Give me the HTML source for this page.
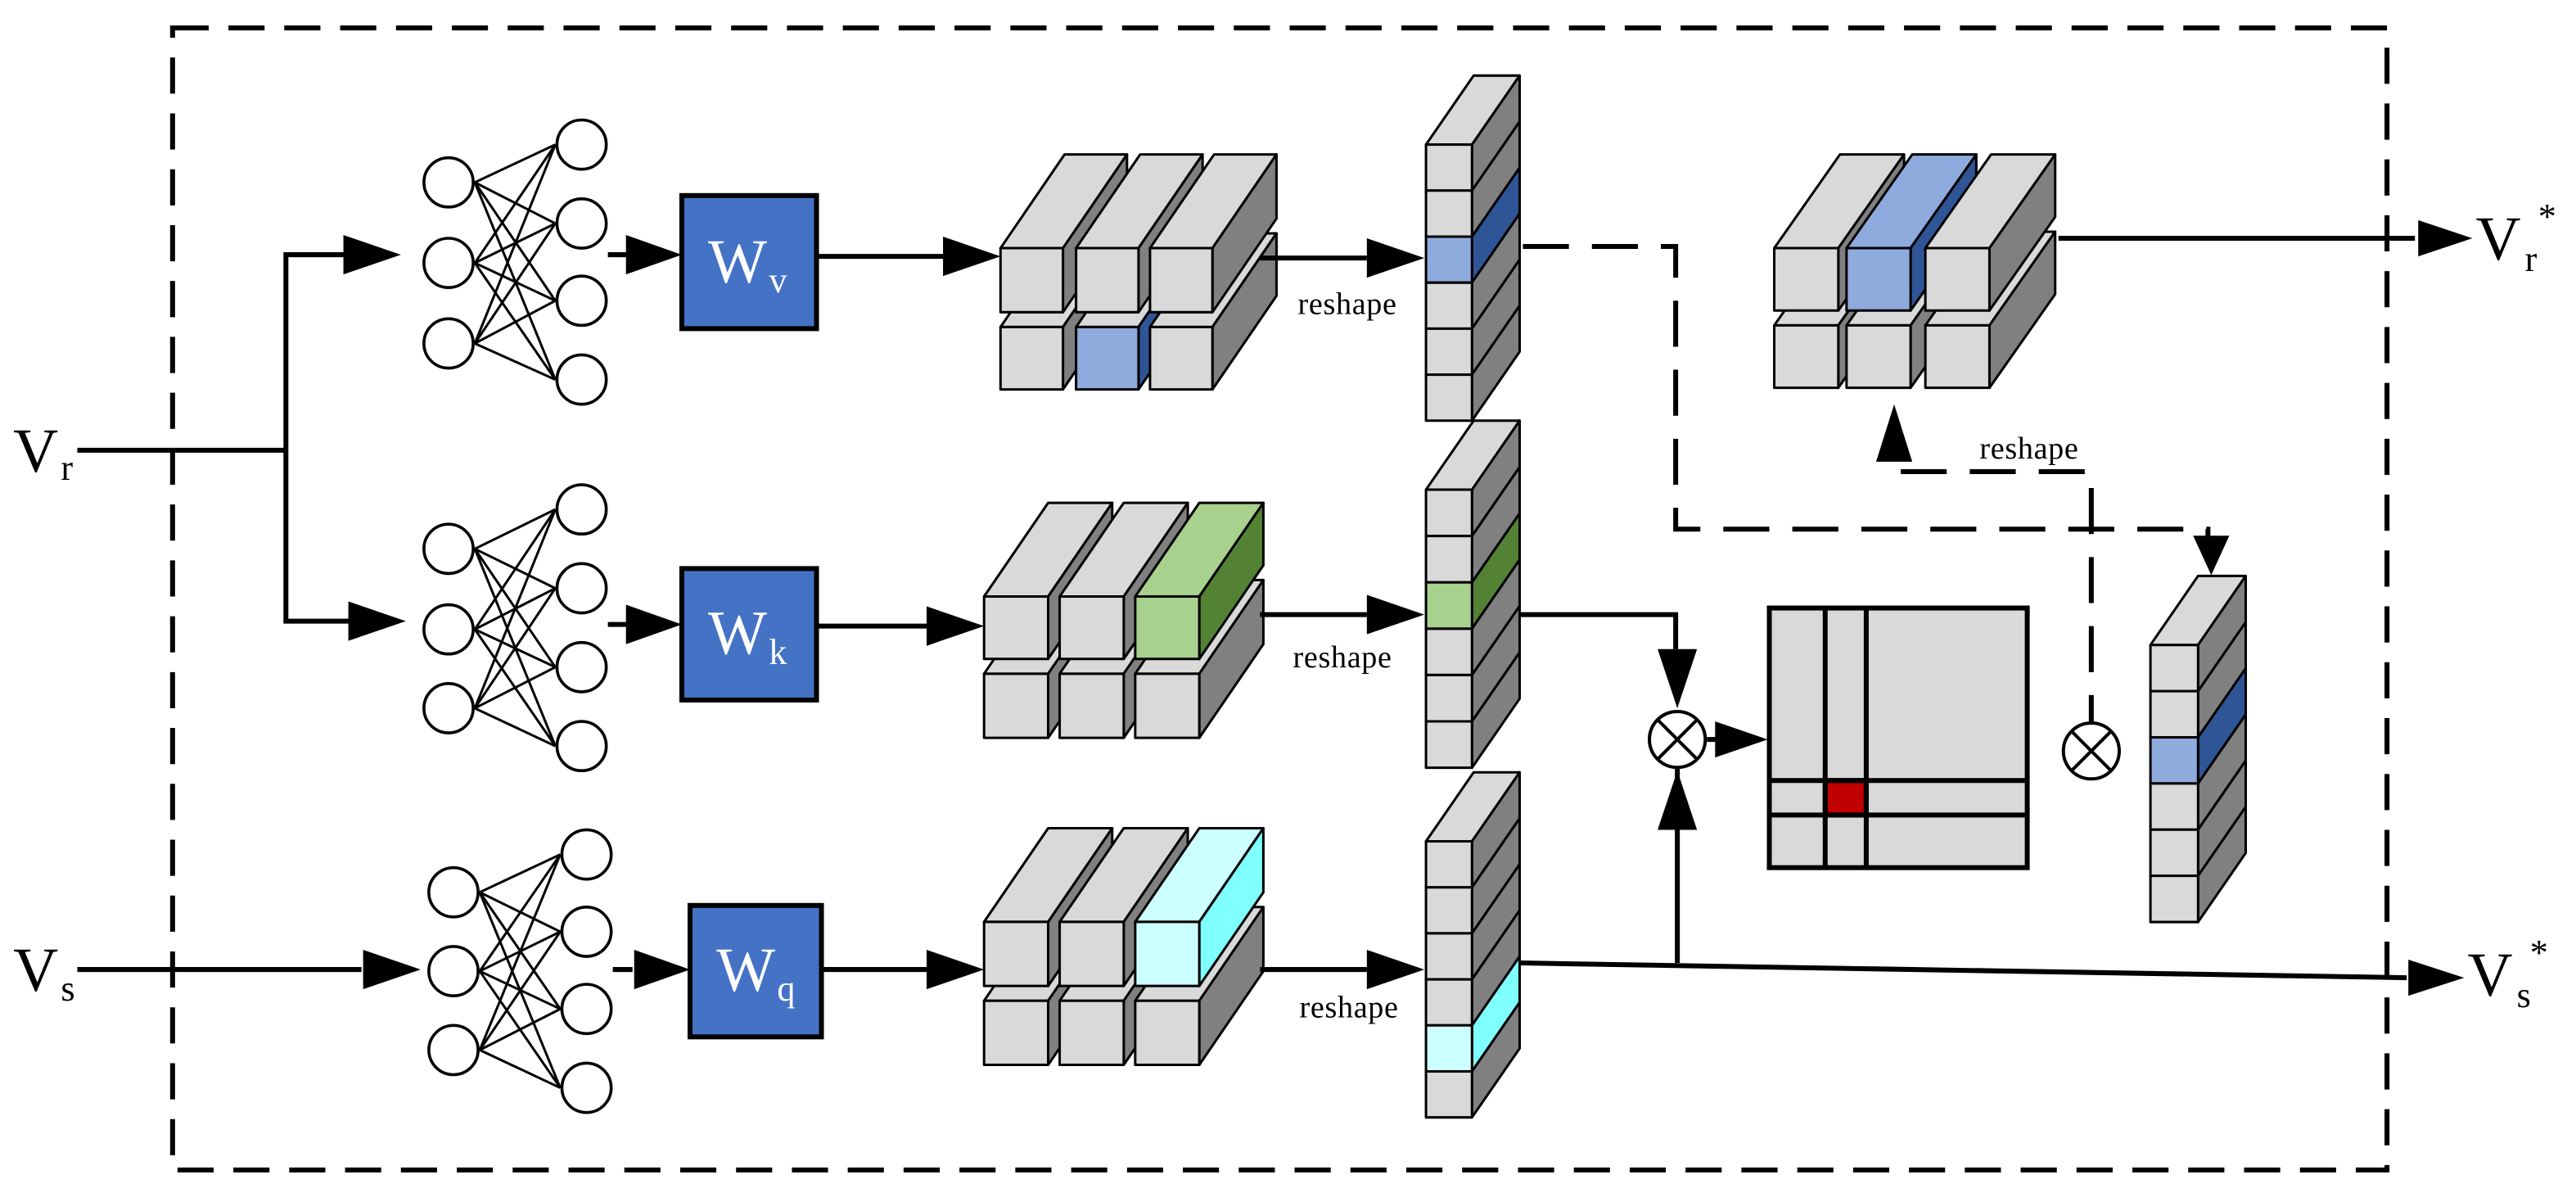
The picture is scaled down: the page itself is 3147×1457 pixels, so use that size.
<!DOCTYPE html>
<html><head><meta charset="utf-8"><style>
html,body{margin:0;padding:0;background:#fff;}
svg{display:block;}
svg text{font-family:"Liberation Serif","Times New Roman",serif;}
</style></head><body>
<svg id="s" width="3147" height="1457" viewBox="0 0 1568 726" xmlns="http://www.w3.org/2000/svg">
<rect x="0" y="0" width="1568" height="726" fill="#fff"/>
<rect x="105" y="17" width="1348" height="695" fill="none" stroke="#000" stroke-width="3" stroke-dasharray="22,12"/>
<g id="shapes"></g>
<g stroke="#000" stroke-width="3" fill="none">
<polyline points="47,274 174,274"/>
<polyline points="209,155 174,155 174,378 212,378"/>
<polyline points="47,590 220,590"/>
<line x1="370" y1="155" x2="382" y2="155"/>
<line x1="370" y1="380" x2="382" y2="380"/>
<line x1="373" y1="590" x2="385" y2="590"/>
<line x1="497" y1="156" x2="575" y2="156"/>
<line x1="497" y1="381" x2="565" y2="381"/>
<line x1="500" y1="590" x2="565" y2="590"/>
<line x1="767" y1="157" x2="832" y2="157"/>
<line x1="767" y1="374" x2="832" y2="374"/>
<line x1="767" y1="590" x2="832" y2="590"/>
<polyline points="925,374 1020,374 1020,395"/>
<line x1="1021" y1="467" x2="1021" y2="586"/>
<line x1="925" y1="586" x2="1465" y2="595"/>
<line x1="1039" y1="450" x2="1045" y2="450"/>
<line x1="1253" y1="145" x2="1470" y2="145"/>
</g>
<g stroke="#000" stroke-width="3" fill="none" stroke-dasharray="28,14">
<polyline points="927,150 1020,150 1020,322 1344,322 1344,330"/>
<polyline points="1157,287 1273,287 1273,440"/>
</g>
<g fill="#000">
<polygon points="244,155 209,143 209,167"/>
<polygon points="247,378 212,366 212,390"/>
<polygon points="256,590 221,578 221,602"/>
<polygon points="415,155 381,143 381,167"/>
<polygon points="415,380 381,368 381,392"/>
<polygon points="420,590 386,578 386,602"/>
<polygon points="609,156 574,144 574,168"/>
<polygon points="599,381 564,369 564,393"/>
<polygon points="599,590 564,578 564,602"/>
<polygon points="867,157 832,145 832,169"/>
<polygon points="867,374 832,362 832,386"/>
<polygon points="867,590 832,578 832,602"/>
<polygon points="1021,431 1009,395 1033,395"/>
<polygon points="1021,469 1009,505 1033,505"/>
<polygon points="1076,450 1044,439 1044,461"/>
<polygon points="1153,246 1142,281 1164,281"/>
<polygon points="1346,350 1335,326 1357,326"/>
<polygon points="1505,145 1472,134 1472,156"/>
<polygon points="1500,595 1466,584 1466,606"/>
</g>
<g stroke="#000" stroke-width="3" fill="#4472c4">
<rect x="415" y="119" width="82" height="81"/>
<rect x="415" y="346" width="82" height="80"/>
<rect x="420" y="551" width="80" height="80"/>
</g>
<g fill="#fff" font-family="Liberation Serif, Times New Roman, serif">
<text x="431" y="172" font-size="38">W</text><text x="468" y="178" font-size="22">v</text>
<text x="431" y="398" font-size="38">W</text><text x="468" y="404" font-size="22">k</text>
<text x="436" y="603" font-size="38">W</text><text x="473" y="609" font-size="22">q</text>
</g>
<g stroke="#000" stroke-width="3" fill="#d9d9d9">
<rect x="1077" y="370" width="157" height="158"/>
<rect x="1111" y="475" width="25" height="21" fill="#c00000"/>
<line x1="1111" y1="370" x2="1111" y2="528"/>
<line x1="1136" y1="370" x2="1136" y2="528"/>
<line x1="1077" y1="475" x2="1234" y2="475"/>
<line x1="1077" y1="496" x2="1234" y2="496"/>
</g>
<g stroke="#000" stroke-width="2" fill="#fff">
<circle cx="1021" cy="450" r="17"/>
<line x1="1009" y1="438" x2="1033" y2="462"/><line x1="1033" y1="438" x2="1009" y2="462"/>
<circle cx="1273" cy="457" r="17"/>
<line x1="1261" y1="445" x2="1285" y2="469"/><line x1="1285" y1="445" x2="1261" y2="469"/>
</g>
<g fill="#000" font-family="Liberation Serif, Times New Roman, serif">
<text x="8" y="287" font-size="38">V</text><text x="37" y="292" font-size="22">r</text>
<text x="8" y="603" font-size="38">V</text><text x="37" y="609" font-size="22">s</text>
<text x="1507" y="158" font-size="38">V</text><text x="1537" y="165" font-size="22">r</text><text x="1545" y="139" font-size="22">*</text>
<text x="1502" y="606" font-size="38">V</text><text x="1532" y="613" font-size="22">s</text><text x="1540" y="587" font-size="22">*</text>
<text x="790" y="191" font-size="19" textLength="60">reshape</text>
<text x="787" y="406" font-size="19" textLength="60">reshape</text>
<text x="791" y="619" font-size="19" textLength="60">reshape</text>
<text x="1205" y="279" font-size="19" textLength="60">reshape</text>
</g>
</svg>
<script>
(function(){
var g=document.getElementById('shapes'),NS='http://www.w3.org/2000/svg';
function el(n,a){var e=document.createElementNS(NS,n);for(var k in a)e.setAttribute(k,a[k]);g.appendChild(e);return e;}
function poly(p,f){el('polygon',{points:p.map(function(q){return q.join(',')}).join(' '),fill:f,stroke:'#000','stroke-width':1.5,'stroke-linejoin':'round'});}
var L='#d9d9d9',D='#808080';
function prism(x,y,w,h,dx,dy,fr,tp,sd){
 poly([[x,y],[x+dx,y+dy],[x+w+dx,y+dy],[x+w,y]],tp);
 poly([[x+w,y],[x+w+dx,y+dy],[x+w+dx,y+h+dy],[x+w,y+h]],sd);
 poly([[x,y],[x+w,y],[x+w,y+h],[x,y+h]],fr);
}
function tensor(xs,w,y1,h1,y2,h2,dx,dy,hl){
 for(var r=0;r<2;r++){
  for(var i=0;i<3;i++){
   var c=[L,L,D];
   if(hl&&hl.r==r&&hl.i==i)c=hl.c;
   if(r==0)prism(xs[i],y2,w,h2,dx,dy,c[0],c[1],c[2]);
   else prism(xs[i],y1,w,h1,dx,dy,c[0],c[1],c[2]);
  }
 }
}
var BL=['#8faadc','#8faadc','#2f5597'],GR=['#a9d18e','#a9d18e','#548235'],CY=['#ccffff','#ccffff','#80ffff'];
tensor([609,655,700],38,151,39,199,38,39,-57,{r:0,i:1,c:[BL[0],L,BL[2]]});
tensor([599,645,691],39,363,38,410,39,39,-57,{r:1,i:2,c:GR});
tensor([599,645,691],39,561,39,609,39,39,-57,{r:1,i:2,c:CY});
tensor([1080,1124,1172],39,151,38,198,38,40,-57,{r:1,i:1,c:BL});
function column(x,y0,w,ch,dx,dy,hi,hc){
 poly([[x,y0],[x+dx,y0+dy],[x+w+dx,y0+dy],[x+w,y0]],L);
 for(var i=0;i<6;i++){
  var y=y0+i*ch,f=L,s=D;
  if(i==hi){f=hc[0];s=hc[2];}
  poly([[x+w,y],[x+w+dx,y+dy],[x+w+dx,y+ch+dy],[x+w,y+ch]],s);
  poly([[x,y],[x+w,y],[x+w,y+ch],[x,y+ch]],f);
 }
}
column(868,88,28,28,29,-42,2,BL);
column(868,298,28,28.2,29,-42,2,GR);
column(868,512,28,28,29,-42,4,CY);
column(1309,392.5,29,28.1,29,-42,2,BL);
function net(lx,ly,rx,ry){
 for(var i=0;i<ly.length;i++)for(var j=0;j<ry.length;j++)
  el('line',{x1:lx+16,y1:ly[i],x2:rx-16,y2:ry[j],stroke:'#000','stroke-width':1.5});
 ly.forEach(function(y){el('circle',{cx:lx,cy:y,r:15,fill:'#fff',stroke:'#000','stroke-width':1.8});});
 ry.forEach(function(y){el('circle',{cx:rx,cy:y,r:15,fill:'#fff',stroke:'#000','stroke-width':1.8});});
}
net(273,[111,160,209],354,[88,136,183,231]);
net(273,[334,383,431],354,[310,358,406,454]);
net(276,[543,591,639],357,[520,567,614,662]);
})();
</script>
</body></html>
